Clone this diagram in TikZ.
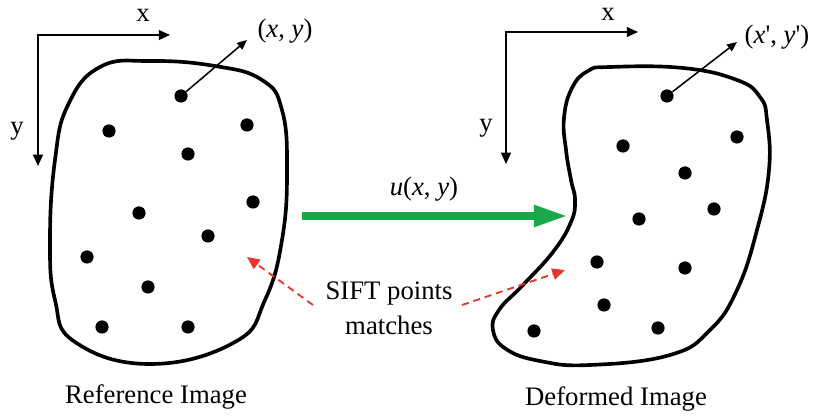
\documentclass[tikz,border=0pt]{standalone}
\usepackage{fontspec}
\setmainfont{Liberation Serif}
\usetikzlibrary{arrows.meta,positioning}
\definecolor{warpgreen}{HTML}{18A84A}
\definecolor{matchred}{HTML}{E8342A}

\begin{document}
\begin{tikzpicture}[
  x=0.025cm, y=-0.025cm,
  lbl/.style={font=\fontsize{19}{25}\selectfont, inner sep=1pt},
  keypt/.style={circle, fill=black, inner sep=0pt, minimum size=0.33cm},
  outline/.style={line width=2.6pt, smooth cycle, tension=0.75},
  axisarrow/.style={line width=1.3pt, {Triangle[length=8pt,width=7pt]}-{Triangle[length=8pt,width=7pt]}},
  ptr/.style={line width=1.1pt, -{Triangle[length=7pt,width=6pt]}},
  warp/.style={warpgreen, line width=5.5pt, -{Triangle[length=0.85cm,width=0.5cm]}},
  match/.style={matchred, line width=1.3pt, dash pattern=on 5pt off 3.5pt,
                -{Triangle[length=9pt,width=8pt]}}
]
  \useasboundingbox (0,0) rectangle (825,418);

  % reference image
  \draw[outline] plot coordinates {(100,67) (150,61) (215,66) (262,80) (282,110)
    (287,170) (282,240) (265,300) (235,342) (150,364) (75,342) (55,300)
    (50,240) (55,160) (68,105)};
  \foreach \n/\px/\py in {1/181/96, 2/109/131, 3/247/125, 4/188/154, 5/253/202,
      6/139/213, 7/208/236, 8/87/257, 9/148/287, 10/102/327, 11/188/327}
    \node[keypt] (L\n) at (\px,\py) {};

  \coordinate (Lorig) at (38,35);
  \coordinate (LxEnd) at (170,35);
  \coordinate (LyEnd) at (38,166);
  \draw[axisarrow] (LxEnd) -- (Lorig) -- (LyEnd);
  \node[lbl] (Lx) at (143,15) {x};
  \node[lbl] (Ly) at (17,131) {y};

  \coordinate (Ltip) at (247,40);
  \draw[ptr] (L1) -- (Ltip);
  \node[lbl] (Lpt) at (285,31) {(\textit{x}, \textit{y})};
  \node[lbl] (refcap) at (156,397) {Reference Image};

  % deformed image
  \draw[outline] plot coordinates {(610,67) (683,68) (737,80) (760,97) (767,120)
    (769,170) (757,230) (737,290) (710,330) (670,355) (590,365) (540,361)
    (506,349) (493,330) (499,310) (522,286) (553,252) (571,222) (575,200)
    (571,180) (566,150) (564,118) (572,88) (588,71)};
  \foreach \n/\px/\py in {1/667/96, 2/623/146, 3/737/137, 4/685/173, 5/714/209,
      6/639/219, 7/685/268, 8/597/262, 9/604/305, 10/658/328, 11/534/331}
    \node[keypt] (R\n) at (\px,\py) {};

  \coordinate (Rorig) at (506,32);
  \coordinate (RxEnd) at (638,32);
  \coordinate (RyEnd) at (506,164);
  \draw[axisarrow] (RxEnd) -- (Rorig) -- (RyEnd);
  \node[lbl] (Rx) at (608,14) {x};
  \node[lbl] (Ry) at (486,128) {y};

  \coordinate (Rtip) at (737,42);
  \draw[ptr] (R1) -- (Rtip);
  \node[lbl] (Rpt) at (777,37) {(\textit{x}\textquotesingle, \textit{y}\textquotesingle)};
  \node[lbl] (defcap) at (616,399) {Deformed Image};

  % displacement and matches
  \coordinate (warpA) at (302,216);
  \coordinate (warpB) at (568,216);
  \draw[warp] (warpA) -- (warpB);
  \node[lbl] (uxy) at (424,189) {\textit{u}(\textit{x}, \textit{y})};

  \node[lbl, align=center] (sift) at (389,308) {SIFT points\\matches};
  \coordinate (mL) at (313,305);
  \coordinate (mLtip) at (247,257);
  \coordinate (mR) at (462,305);
  \coordinate (mRtip) at (565,270);
  \draw[match] (mL) -- (mLtip);
  \draw[match] (mR) -- (mRtip);
\end{tikzpicture}
\end{document}
